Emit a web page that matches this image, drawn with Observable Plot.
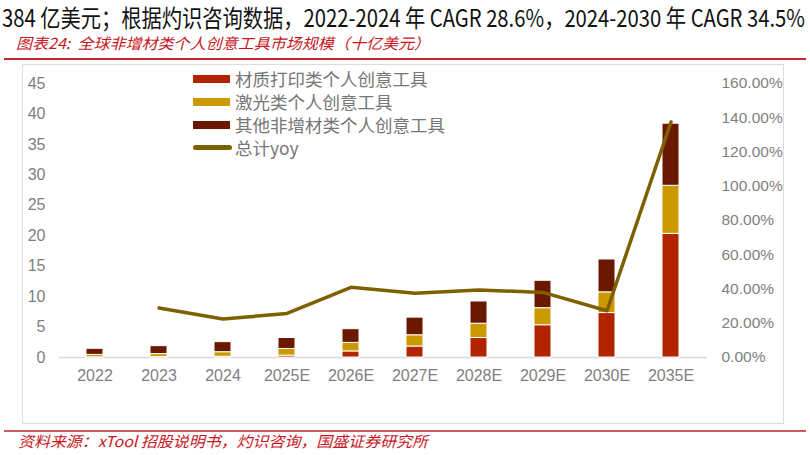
<!DOCTYPE html>
<html><head><meta charset="utf-8">
<script src="https://cdn.jsdelivr.net/npm/d3@7"></script>
<script src="https://cdn.jsdelivr.net/npm/@observablehq/plot@0.6"></script>
<style>
html,body{margin:0;padding:0;background:#fff;}
body{width:810px;height:455px;overflow:hidden;position:relative;font-family:"Liberation Sans","Noto Sans CJK SC",sans-serif;}
.abs{position:absolute;white-space:nowrap;transform-origin:0 50%;}
#title{left:2px;top:2px;height:30px;line-height:30px;font-size:24px;color:#111;font-family:"Noto Sans CJK SC","Liberation Sans",sans-serif;}
#caption{left:16px;top:33px;height:20px;line-height:20px;font-size:15px;color:#c8161d;font-style:italic;font-family:"Noto Sans CJK SC",sans-serif;}
#source{left:18px;top:431px;height:20px;line-height:20px;font-size:15px;color:#c8161d;font-style:italic;font-family:"Noto Sans CJK SC",sans-serif;}
#topline{position:absolute;left:4px;width:802px;top:58px;height:2px;background:#c0282d;}
#botline{position:absolute;left:4px;width:802px;top:430px;height:2px;background:#cf5a5f;}
#box{position:absolute;left:22px;top:64px;width:762px;height:360px;box-sizing:border-box;border:1.5px solid #dcdcdc;}
#chart{position:absolute;left:22px;top:64px;}
.leg{position:absolute;left:193px;height:22px;line-height:22px;font-size:17.5px;color:#767676;font-family:"Noto Sans CJK SC",sans-serif;white-space:nowrap;}
.sw{position:absolute;left:0;top:7px;width:37px;height:8px;}
.swl{position:absolute;left:0;top:8.5px;width:39px;height:5px;border-radius:3px;}
.lt{position:absolute;left:42px;top:0;}
</style></head>
<body>
<div id="title" class="abs">384 亿美元；根据灼识咨询数据，2022-2024 年 CAGR 28.6%，2024-2030 年 CAGR 34.5%</div>
<div id="caption" class="abs">图表24:&nbsp;&nbsp;全球非增材类个人创意工具市场规模（十亿美元）</div>
<div id="topline"></div>
<div id="box"></div>
<div id="chart"></div>
<div id="legend"></div>
<div id="botline"></div>
<div id="source" class="abs">资料来源：xTool 招股说明书，灼识咨询，国盛证券研究所</div>
<script>
const years = ["2022","2023","2024","2025E","2026E","2027E","2028E","2029E","2030E","2035E"];
const printing = [0.03,0.06,0.12,0.3,1.0,1.8,3.2,5.3,7.3,20.3];
const laser = [0.4,0.5,0.75,1.1,1.4,1.85,2.35,2.8,3.4,7.9];
const other = [1.0,1.3,1.65,1.8,2.25,2.9,3.65,4.5,5.4,10.2];
const yoyYears = ["2023","2024","2025E","2026E","2027E","2028E","2029E","2030E","2035E"];
const yoy = [28.9,22.5,25.7,41.0,37.5,39.4,38.0,27.3,137.5];
const seriesNames = ["材质打印类个人创意工具","激光类个人创意工具","其他非增材类个人创意工具"];
const lineName = "总计yoy";
const leftTicks = [0,5,10,15,20,25,30,35,40,45];
const rightTicks = [0,20,40,60,80,100,120,140,160];

const colors = ["#b22400","#cc9900","#6a1800"];
const lineColor = "#7f6000";
const leftMax = 45, rightMax = 160;
const toLeft = v => v * leftMax / rightMax;

const rows = [];
const seriesVals = [printing, laser, other];
years.forEach((y, i) => seriesNames.forEach((s, j) => rows.push({year: y, series: s, value: seriesVals[j][i]})));
const lineRows = yoyYears.map((y, i) => ({year: y, yoy: yoy[i]}));

const chart = Plot.plot({
  width: 786, height: 360,
  marginLeft: 37, marginRight: 101, marginTop: 19, marginBottom: 67,
  style: {fontFamily: '"Liberation Sans", sans-serif', fontSize: "16px", color: "#7f7f7f", background: "transparent", overflow: "visible"},
  x: {domain: years, paddingInner: 0.73, paddingOuter: 0.365, label: null},
  y: {domain: [0, leftMax], label: null},
  color: {domain: seriesNames, range: colors},
  marks: [
    Plot.ruleY([0], {stroke: "#d9d9d9", strokeWidth: 1.5}),
    Plot.barY(rows, {x: "year", y: "value", fill: "series", stroke: "white", strokeWidth: 1}),
    Plot.line(lineRows, {x: "year", y: d => toLeft(d.yoy), stroke: lineColor, strokeWidth: 3.5, strokeLinejoin: "round"}),
    Plot.axisY(leftTicks, {anchor: "left", tickSize: 0, tickPadding: 14, label: null}),
    Plot.axisY(rightTicks.map(toLeft), {anchor: "right", tickSize: 0, tickPadding: 14, label: null, fontSize: 15.5,
      tickFormat: d => (d * rightMax / leftMax).toFixed(2) + "%"}),
    Plot.axisX({tickSize: 0, tickPadding: 12, label: null})
  ]
});
document.getElementById("chart").appendChild(chart);

// legend
const legend = document.getElementById("legend");
const legendY = [79.3, 102.3, 125, 147.7];
seriesNames.concat([lineName]).forEach((name, i) => {
  const d = document.createElement("div");
  d.className = "leg";
  d.style.top = (legendY[i] - 11) + "px";
  const sw = document.createElement("div");
  if (i < 3) { sw.className = "sw"; sw.style.background = colors[i]; }
  else { sw.className = "swl"; sw.style.background = lineColor; }
  const t = document.createElement("span");
  t.className = "lt"; t.textContent = name;
  d.appendChild(sw); d.appendChild(t);
  legend.appendChild(d);
});

function fit(id, w) {
  const el = document.getElementById(id);
  const r = el.getBoundingClientRect().width;
  el.style.transform = `scaleX(${w / r})`;
}
fit("title", 803);
fit("caption", 414);
fit("source", 410);
</script>
</body></html>
